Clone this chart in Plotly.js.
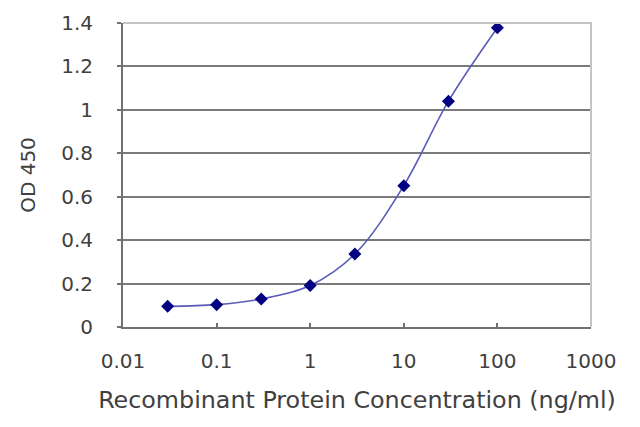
<!DOCTYPE html>
<html>
<head>
<meta charset="utf-8">
<script src="https://cdn.plot.ly/plotly-3.0.1.min.js"></script>
<style>html,body{margin:0;padding:0;background:#fff;}#chart{width:640px;height:427px;}</style>
</head>
<body>
<div id="chart"></div>
<script>
const concentrations = [0.03, 0.1, 0.3, 1, 3, 10, 30, 100];
const od450 = [0.095, 0.103, 0.129, 0.191, 0.336, 0.651, 1.040, 1.378];
const xTickVals = [0.01, 0.1, 1, 10, 100, 1000];
const xTickText = ['0.01', '0.1', '1', '10', '100', '1000'];
const yTickVals = [0, 0.2, 0.4, 0.6, 0.8, 1, 1.2, 1.4];
const yTickText = ['0', '0.2', '0.4', '0.6', '0.8', '1', '1.2', '1.4'];

const font = 'DejaVu Sans, Liberation Sans, Arial, sans-serif';
const textColor = '#404040';

const trace = {
  x: concentrations,
  y: od450,
  type: 'scatter',
  mode: 'lines+markers',
  line: {color: '#5a5ab8', width: 1.6, shape: 'spline', smoothing: 1},
  marker: {symbol: 'diamond', size: 10, color: '#000080'},
  hoverinfo: 'x+y',
  showlegend: false
};

const layout = {
  width: 640,
  height: 427,
  margin: {l: 123, r: 49, t: 23, b: 100, pad: 0},
  paper_bgcolor: '#ffffff',
  plot_bgcolor: '#ffffff',
  font: {family: font, size: 20, color: textColor},
  xaxis: {
    type: 'log',
    range: [-2, 3],
    tickvals: xTickVals,
    ticktext: xTickText,
    ticks: 'inside',
    ticklen: 4,
    tickwidth: 2,
    tickcolor: '#707070',
    showgrid: false,
    zeroline: false,
    showline: true,
    linecolor: '#707070',
    linewidth: 2,
    ticklabelstandoff: 15,
    tickfont: {family: font, size: 20, color: textColor},
    title: {text: 'Recombinant Protein Concentration (ng/ml)', font: {family: font, size: 23.8, color: textColor}, standoff: 19}
  },
  yaxis: {
    range: [0, 1.4],
    tickvals: yTickVals,
    ticktext: yTickText,
    ticks: 'outside',
    ticklen: 4,
    tickwidth: 2,
    tickcolor: '#707070',
    showgrid: true,
    gridcolor: '#7a7a7a',
    gridwidth: 2,
    zeroline: false,
    showline: true,
    linecolor: '#707070',
    linewidth: 2,
    ticklabelstandoff: 20,
    tickfont: {family: font, size: 20, color: textColor},
    title: {text: 'OD 450', font: {family: font, size: 20, color: textColor}, standoff: 20}
  },
  shapes: [{
    type: 'path',
    xref: 'paper', yref: 'paper',
    path: 'M0,1 L1,1 L1,0',
    line: {color: '#c4c4c4', width: 2},
    layer: 'above'
  }]
};

Plotly.newPlot('chart', [trace], layout, {displayModeBar: false, staticPlot: true});
</script>
</body>
</html>
